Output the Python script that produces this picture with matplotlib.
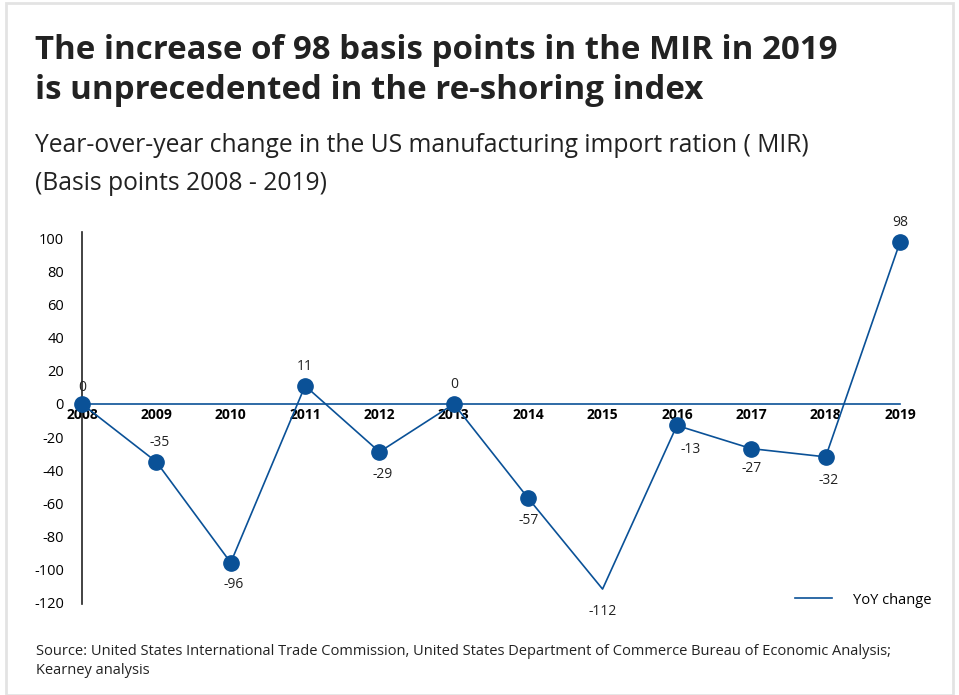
import matplotlib
matplotlib.use('Agg')
import matplotlib.pyplot as plt
from matplotlib.patches import Rectangle

plt.rcParams['font.family'] = ['Open Sans', 'DejaVu Sans']
plt.rcParams['axes.unicode_minus'] = False

years = ['2008', '2009', '2010', '2011', '2012', '2013', '2014', '2015', '2016', '2017', '2018', '2019']
yoy = [0, -35, -96, 11, -29, 0, -57, -112, -13, -27, -32, 98]
has_marker = [True, True, True, True, True, True, True, False, True, True, True, True]
# label offsets in points (dx, dy)
label_pos = [(0, 12), (2, 14), (2, -16), (0, 14), (2, -16), (0, 14), (0, -16), (0, -16),
             (10, -17), (0, -14), (2, -17), (0, 14)]
yticks = [100, 80, 60, 40, 20, 0, -20, -40, -60, -80, -100, -120]

BLUE = '#0a5197'

fig = plt.figure(figsize=(9.59, 6.95), dpi=100)
fig.patches.append(Rectangle((0.006, 0.0), 0.988, 0.995, transform=fig.transFigure,
                             fill=False, edgecolor='#e3e3e3', linewidth=2))

fig.text(0.037, 0.951, 'The increase of 98 basis points in the MIR in 2019\nis unprecedented in the re-shoring index',
         fontsize=23.8, fontweight='bold', color='#222222', va='top', linespacing=1.27)
fig.text(0.037, 0.718, 'Year-over-year change in the US manufacturing import ration ( MIR)\n(Basis points 2008 - 2019)',
         fontsize=17.7, color='#222222', va='bottom', linespacing=1.7)
fig.text(0.038, 0.024, 'Source: United States International Trade Commission, United States Department of Commerce Bureau of Economic Analysis;\nKearney analysis',
         fontsize=10.5, color='#222222', va='bottom', linespacing=1.35)

ax = fig.add_axes([0.0855, 0.131, 0.853, 0.535])
# spine position first: set_position resets the ticks
for s in ['top', 'right']:
    ax.spines[s].set_visible(False)
ax.spines['bottom'].set_position(('data', 0))
ax.spines['bottom'].set_color(BLUE)
ax.spines['bottom'].set_linewidth(1.2)
ax.spines['left'].set_color('#222222')
ax.spines['left'].set_linewidth(1.2)

x = list(range(len(years)))
ax.plot(x, yoy, color=BLUE, linewidth=1.2, label='YoY change', clip_on=False, zorder=3)
mx = [xi for xi, m in zip(x, has_marker) if m]
my = [yi for yi, m in zip(yoy, has_marker) if m]
ax.plot(mx, my, 'o', color=BLUE, markersize=11, clip_on=False, zorder=4)

for xi, yi, (dx, dy) in zip(x, yoy, label_pos):
    ax.annotate(str(yi), (xi, yi), xytext=(dx, dy), textcoords='offset points',
                ha='center', va='center', fontsize=10, color='#222222')

ax.set_xlim(0, 11)
ax.set_ylim(-121, 104)
ax.set_xticks(x)
ax.set_xticklabels(years, fontsize=10, fontweight='bold')
ax.set_yticks(yticks)
ax.tick_params(axis='y', length=0, pad=13, labelsize=10.5)
ax.tick_params(axis='x', length=0, pad=3)

ax.legend(loc='lower right', bbox_to_anchor=(1.055, -0.045), frameon=False, fontsize=10.5,
          handlelength=2.5, handletextpad=1.5)

fig.savefig('out.png', dpi=100, facecolor='white')
